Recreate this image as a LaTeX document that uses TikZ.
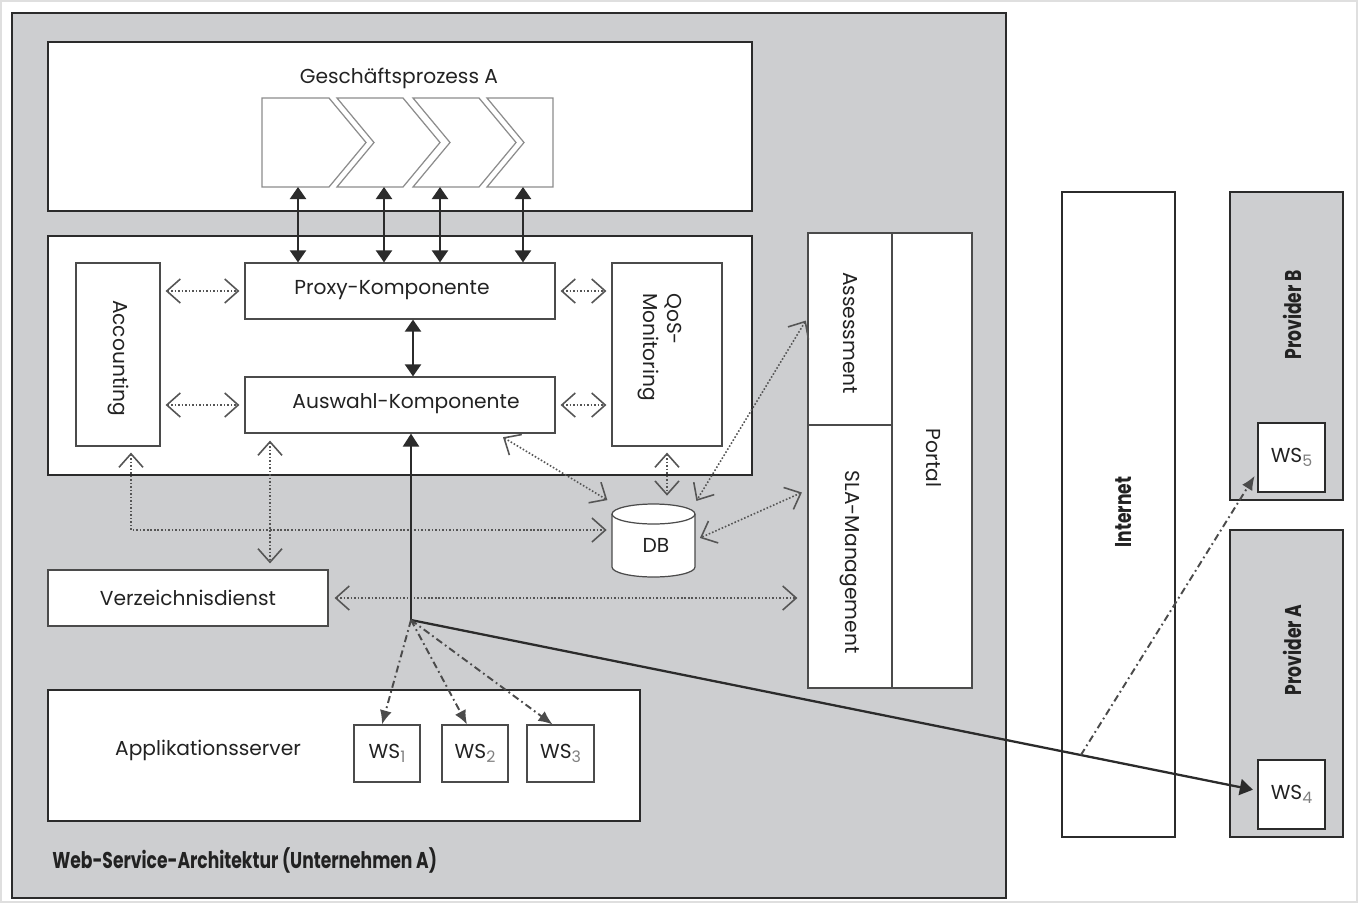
\documentclass[tikz,border=0pt]{standalone}
\usepackage{fontspec}
\usepackage{graphicx}
\setmainfont{Poppins}
\usetikzlibrary{arrows.meta,calc}
\definecolor{archgray}{HTML}{CDCED0}
\definecolor{lineclr}{HTML}{2B2B2B}
\definecolor{dotclr}{HTML}{555555}
\definecolor{chevclr}{HTML}{8C8C8C}
\definecolor{txtclr}{HTML}{222222}
\newcommand\wslabel[1]{WS\raisebox{-0.35ex}{\fontsize{9}{10}\selectfont\color{gray}#1}}
\begin{document}
\begin{tikzpicture}[x=0.02cm,y=-0.02cm,
  bigbox/.style={draw=lineclr, line width=1.4pt, fill=white, inner sep=0pt},
  box/.style={draw=lineclr!85, line width=0.7pt, fill=white, inner sep=0pt},
  chev/.style={draw=chevclr, line width=0.7pt, fill=white},
  lbl/.style={font=\fontsize{11.5}{13.5}\selectfont, text=txtclr, inner sep=0pt},
  blbl/.style={font=\fontsize{13}{15}\selectfont\bfseries, text=txtclr, inner sep=0pt},
  dotarrow/.style={draw=dotclr, line width=0.9pt, dash pattern=on 0.9pt off 1.1pt,
    {Straight Barb[length=2.7mm,width=4.8mm,line width=0.9pt]}-{Straight Barb[length=2.7mm,width=4.8mm,line width=0.9pt]}},
  solidarrow/.style={draw=lineclr, line width=1.2pt,
    {Triangle[length=2.4mm,width=3.2mm]}-{Triangle[length=2.4mm,width=3.2mm]}},
  mainline/.style={draw=lineclr, line width=1.3pt, -{Triangle[length=2.6mm,width=3.2mm]}},
  dasharrow/.style={draw=lineclr!85, line width=1.1pt, dash pattern=on 4pt off 2pt on 1pt off 2pt,
    -{Latex[length=2.8mm,width=2.4mm]}}
]
\useasboundingbox (0,0) rectangle (1358,903);
\fill[white] (0,0) rectangle (1358,903);
\draw[gray!25, line width=0.8pt] (1,1) rectangle (1357,902);

% enterprise architecture container
\node[bigbox, fill=archgray, minimum width=19.88cm, minimum height=17.7cm] (arch) at (509,455.5) {};
\node[blbl, anchor=west] (archlbl) at (52,860) {\scalebox{0.75}[1]{Web-Service-Architektur (Unternehmen A)}};

% business process
\node[bigbox, minimum width=14.08cm, minimum height=3.38cm] (gp) at (400,126.5) {};
\node[lbl] (gptitle) at (399,78) {Geschäftsprozess A};
\draw[chev] (262,98) -- (329,98) -- (366,142.5) -- (329,187) -- (262,187) -- cycle;
\draw[chev] (337,98) -- (403,98) -- (440,142.5) -- (403,187) -- (337,187) -- (374,142.5) -- cycle;
\draw[chev] (413,98) -- (479,98) -- (516,142.5) -- (479,187) -- (413,187) -- (450,142.5) -- cycle;
\draw[chev] (487,98) -- (553,98) -- (553,187) -- (487,187) -- (524,142.5) -- cycle;
\coordinate (c1) at (298,187);
\coordinate (c2) at (384,187);
\coordinate (c3) at (440,187);
\coordinate (c4) at (523,187);

% middleware block
\node[bigbox, minimum width=14.08cm, minimum height=4.78cm] (mid) at (400,355.5) {};
\node[box, minimum width=1.68cm, minimum height=3.66cm] (acc) at (118,354.5) {};
\node[lbl, rotate=-90] (acclbl) at (118,358) {Accounting};
\node[box, minimum width=6.2cm, minimum height=1.12cm] (proxy) at (400,291) {};
\node[lbl] (proxylbl) at (392,290) {Proxy-Komponente};
\node[box, minimum width=6.2cm, minimum height=1.12cm] (ausw) at (400,405) {};
\node[lbl] (auswlbl) at (406,404) {Auswahl-Komponente};
\node[box, minimum width=2.2cm, minimum height=3.66cm] (qos) at (667,354.5) {};
\node[lbl, rotate=-90, align=left] (qoslbl) at (660,347) {QoS-\\Monitoring};

% directory
\node[box, lbl, minimum width=5.6cm, minimum height=1.12cm] (verz) at (188,598) {Verzeichnisdienst};

% application server
\node[bigbox, minimum width=11.84cm, minimum height=2.62cm] (app) at (344,755.5) {};
\node[lbl] (applbl) at (208,750) {Applikationsserver};
\node[box, lbl, minimum width=1.32cm, minimum height=1.14cm] (ws1) at (387,753.5) {\wslabel{1}};
\node[box, lbl, minimum width=1.32cm, minimum height=1.14cm] (ws2) at (475,753.5) {\wslabel{2}};
\node[box, lbl, minimum width=1.34cm, minimum height=1.14cm] (ws3) at (560.5,753.5) {\wslabel{3}};

% database
\node[minimum width=1.66cm, minimum height=1.48cm, inner sep=0pt] (db) at (653.5,540) {};
\draw[draw=lineclr!85, line width=0.7pt, fill=white] (612,514) -- (612,567)
  arc[start angle=180, end angle=360, x radius=0.83cm, y radius=0.2cm] -- (695,514);
\draw[draw=lineclr!85, line width=0.7pt, fill=white] (653.5,514) ellipse [x radius=0.83cm, y radius=0.2cm];
\node[lbl] (dblbl) at (656,545) {DB};

% portal
\node[box, minimum width=3.28cm, minimum height=9.1cm] (portal) at (890,460.5) {};
\node[box, minimum width=1.68cm, minimum height=3.84cm] (assess) at (850,329) {};
\node[box, minimum width=1.68cm, minimum height=5.26cm] (sla) at (850,556.5) {};
\node[lbl, rotate=-90] (assesslbl) at (850,333) {Assessment};
\node[lbl, rotate=-90] (slalbl) at (850,562) {SLA-Management};
\node[lbl, rotate=-90] (portallbl) at (934,458) {Portal};

% internet and providers
\node[bigbox, minimum width=2.26cm, minimum height=12.9cm] (inet) at (1118.5,514.5) {};
\node[blbl, rotate=90] (inetlbl) at (1124,512) {\scalebox{0.75}[1]{Internet}};
\node[bigbox, fill=archgray, minimum width=2.26cm, minimum height=6.16cm] (provB) at (1286.5,346) {};
\node[bigbox, fill=archgray, minimum width=2.26cm, minimum height=6.14cm] (provA) at (1286.5,683.5) {};
\node[blbl, rotate=90] (provBlbl) at (1292,315) {\scalebox{0.75}[1]{Provider B}};
\node[blbl, rotate=90] (provAlbl) at (1292,650) {\scalebox{0.75}[1]{Provider A}};
\node[bigbox, lbl, minimum width=1.34cm, minimum height=1.38cm] (ws5) at (1291.5,457.5) {\wslabel{5}};
\node[bigbox, lbl, minimum width=1.34cm, minimum height=1.38cm] (ws4) at (1291.5,794.5) {\wslabel{4}};

% helper x positions
\coordinate (x131) at (131,0);
\coordinate (x270) at (270,0);
\coordinate (x413) at (413,0);
\coordinate (x497) at (497,0);
\coordinate (x667) at (667,0);

% solid arrows
\foreach \c in {c1,c2,c3,c4} \draw[solidarrow] (\c) -- (\c |- proxy.north);
\draw[solidarrow] (proxy.south -| x413) -- (ausw.north -| x413);

% dotted arrows
\draw[dotarrow, shorten <=0.1cm, shorten >=0.1cm] (acc.east |- proxy.west) -- (proxy.west);
\draw[dotarrow, shorten <=0.1cm, shorten >=0.1cm] (acc.east |- ausw.west) -- (ausw.west);
\draw[dotarrow, shorten <=0.1cm, shorten >=0.1cm] (proxy.east) -- (qos.west |- proxy.east);
\draw[dotarrow, shorten <=0.1cm, shorten >=0.1cm] (ausw.east) -- (qos.west |- ausw.east);
\coordinate (dbA) at ([yshift=0.2cm]db.west);
\draw[dotarrow, shorten <=0.12cm, shorten >=0.1cm] (acc.south -| x131) -- (x131 |- dbA) -- (dbA);
\draw[dotarrow, shorten <=0.14cm, shorten >=0.12cm] (ausw.south -| x270) -- (verz.north -| x270);
\draw[dotarrow, shorten <=0.14cm, shorten >=0.1cm] (ausw.south -| x497) -- (db.north west);
\draw[dotarrow, shorten <=0.12cm, shorten >=0.14cm] (qos.south -| x667) -- (db.north -| x667);
\draw[dotarrow, shorten <=0.06cm, shorten >=0.04cm] ([yshift=0.22cm]assess.west) -- (db.north east);
\draw[dotarrow, shorten <=0.12cm, shorten >=0.1cm] ([yshift=1.33cm]sla.west) -- (db.east);
\draw[dotarrow, shorten <=0.12cm, shorten >=0.2cm] (verz.east) -- (sla.west |- verz.east);

% main flow
\coordinate (hub) at (411,620);
\draw[mainline] (hub) -- (ausw.south -| hub);
\coordinate (ws4in) at ([yshift=0.08cm]ws4.west);
\draw[mainline, shorten >=0.08cm] (hub) -- (ws4in);
\draw[dasharrow] (hub) -- ([xshift=-0.1cm]ws1.north);
\draw[dasharrow] (hub) -- ([xshift=-0.16cm]ws2.north);
\draw[dasharrow] (hub) -- ([xshift=-0.16cm]ws3.north);
\coordinate (br) at ($(hub)!0.792!(ws4in)$);
\draw[dasharrow, shorten >=0.08cm] (br) -- ([yshift=-0.3cm]ws5.west);
\end{tikzpicture}
\end{document}
